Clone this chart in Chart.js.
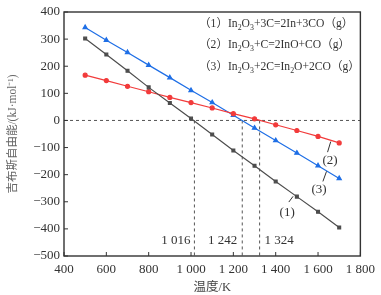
<!DOCTYPE html>
<html><head><meta charset="utf-8">
<script src="https://cdn.jsdelivr.net/npm/chart.js@4.4.1/dist/chart.umd.min.js"></script>
<style>html,body{margin:0;padding:0;background:#fff;}canvas{display:block;}</style>
</head><body>
<canvas id="c" width="381" height="295"></canvas>
<script>
const temps = [500,600,700,800,900,1000,1100,1200,1300,1400,1500,1600,1700];
const dg1 = [302,243,183,122,64,7,-52,-111,-167,-225,-281,-337,-395];
const dg2 = [167,147,126,106,85,66,46,25,6,-16,-37,-59,-83];
const dg3 = [343,296,251,204,158,111,66,19,-28,-74,-120,-167,-214];
const xTicks = [400,600,800,1000,1200,1400,1600,1800];
const xTickLabels = ['400','600','800','1 000','1 200','1 400','1 600','1 800'];
const yTicks = [400,300,200,100,0,-100,-200,-300,-400,-500];
const crossTemps = [1016,1242,1324];
const crossLabels = ['1 016','1 242','1 324'];
const legendLines = ['（1）In_2O_3+3C=2In+3CO（g）','（2）In_2O_3+C=2InO+CO（g）','（3）In_2O_3+2C=In_2O+2CO（g）'];
const curveTags = ['(1)','(2)','(3)'];
const xTitle = '温度/K';
const yTitle = '吉布斯自由能/(kJ·mol⁻¹)';

const SERIF = '"Liberation Serif","Noto Sans CJK SC"';
const fmtY = v => v < 0 ? '\u2212' + Math.abs(v) : String(v);
const pts = arr => temps.map((t,i)=>({x:t,y:arr[i]}));

const datasets = [
  {data:pts(dg1), borderColor:'#4d4d4d', backgroundColor:'#4d4d4d', pointStyle:'rect', pointRadius:2},
  {data:pts(dg2), borderColor:'#f23b3b', backgroundColor:'#f23b3b', pointStyle:'circle', pointRadius:2},
  {data:pts(dg3), borderColor:'#1f6fe6', backgroundColor:'#1f6fe6', pointStyle:'triangle', pointRadius:2.4},
  {data:[{x:400,y:0},{x:1800,y:0}], borderColor:'#555', borderDash:[3,3], borderWidth:1, pointRadius:0}
].map(d=>Object.assign({borderWidth:1.2, fill:false, tension:0}, d));
crossTemps.forEach(t=>datasets.push({data:[{x:t,y:0},{x:t,y:-500}], borderColor:'#555', borderDash:[3,3], borderWidth:1, pointRadius:0, fill:false}));

function drawRich(ctx, str, x, y, size){
  let i=0; ctx.textBaseline='middle'; ctx.textAlign='left';
  while(i<str.length){
    if(str[i]==='_'){ ctx.font = (size*0.68)+'px '+SERIF; ctx.fillText(str[i+1], x, y+size*0.3); x += ctx.measureText(str[i+1]).width; i+=2; }
    else { ctx.font = size+'px '+SERIF; ctx.fillText(str[i], x, y); x += ctx.measureText(str[i]).width; i++; }
  }
}

const deco = {
  id:'deco',
  afterDatasetsDraw(chart){
    const {ctx, chartArea:a, scales:{x, y}} = chart;
    ctx.save();
    ctx.strokeStyle='#333'; ctx.lineWidth=1.4;
    ctx.strokeRect(a.left, a.top, a.right-a.left, a.bottom-a.top);
    ctx.lineWidth=1;
    xTicks.forEach(v=>{const px=x.getPixelForValue(v); ctx.beginPath(); ctx.moveTo(px,a.bottom); ctx.lineTo(px,a.bottom-4); ctx.stroke();});
    yTicks.forEach(v=>{const py=y.getPixelForValue(v); ctx.beginPath(); ctx.moveTo(a.left,py); ctx.lineTo(a.left+4,py); ctx.stroke();});
    ctx.fillStyle='#333'; ctx.font='13px '+SERIF; ctx.textBaseline='middle';
    const ly = y.getPixelForValue(-443);
    ctx.textAlign='right';
    ctx.fillText(crossLabels[0], x.getPixelForValue(crossTemps[0])-4, ly);
    ctx.fillText(crossLabels[1], x.getPixelForValue(crossTemps[1])-5, ly);
    ctx.textAlign='left';
    ctx.fillText(crossLabels[2], x.getPixelForValue(crossTemps[2])+5, ly);
    const tags = [
      {l:[1482,-280,1462,-301], t:[1454,-338]},
      {l:[1660,-78,1645,-117], t:[1657,-148]},
      {l:[1640,-188,1623,-225], t:[1605,-255]}
    ];
    ctx.strokeStyle='#333'; ctx.lineWidth=1;
    tags.forEach((g,i)=>{
      ctx.beginPath(); ctx.moveTo(x.getPixelForValue(g.l[0]), y.getPixelForValue(g.l[1]));
      ctx.lineTo(x.getPixelForValue(g.l[2]), y.getPixelForValue(g.l[3])); ctx.stroke();
      ctx.textAlign='center'; ctx.font='13px '+SERIF;
      ctx.fillText(curveTags[i], x.getPixelForValue(g.t[0]), y.getPixelForValue(g.t[1]));
    });
    ctx.fillStyle='#333';
    const rows=[24,45,67];
    legendLines.forEach((s,i)=>drawRich(ctx, s, 199, rows[i], 11.6));
    ctx.restore();
  }
};

new Chart(document.getElementById('c'), {
  type:'line',
  data:{datasets},
  options:{
    responsive:false, animation:false,
    layout:{padding:{left:0, top:12, right:16, bottom:0}},
    plugins:{legend:{display:false}, tooltip:{enabled:false}},
    scales:{
      x:{type:'linear', min:400, max:1800,
        afterBuildTicks(s){ s.ticks = xTicks.map(v=>({value:v})); },
        afterFit(s){ s.height = 39; },
        grid:{display:false, drawTicks:false}, border:{display:false},
        ticks:{padding:6, color:'#333', font:{family:SERIF, size:13}, callback:(v)=>xTickLabels[xTicks.indexOf(v)], maxRotation:0, autoSkip:false},
        title:{display:true, text:xTitle, color:'#444', font:{family:SERIF, size:12.5}, padding:{top:0,bottom:0}}
      },
      y:{type:'linear', min:-500, max:400,
        afterBuildTicks(s){ s.ticks = yTicks.map(v=>({value:v})); },
        afterFit(s){ s.width = 64; },
        grid:{display:false, drawTicks:false}, border:{display:false},
        ticks:{padding:4, color:'#333', font:{family:SERIF, size:13}, callback:fmtY, autoSkip:false},
        title:{display:true, text:yTitle, color:'#666', font:{family:SERIF, size:11.5}, padding:{top:6,bottom:0}}
      }
    }
  },
  plugins:[deco]
});
</script>
</body></html>
